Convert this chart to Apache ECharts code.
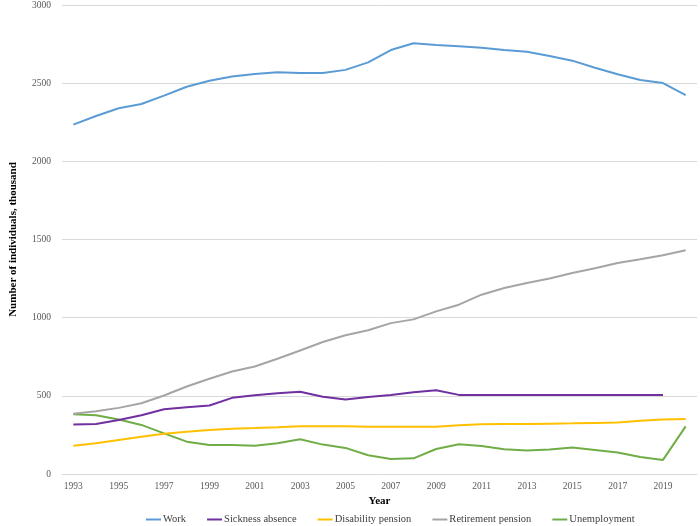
<!DOCTYPE html>
<html>
<head>
<meta charset="utf-8">
<script src="https://cdn.jsdelivr.net/npm/echarts@6/dist/echarts.min.js"></script>
<style>html,body{margin:0;padding:0;background:#fff}#c{width:700px;height:526px}</style>
</head>
<body>
<div id="c"></div>
<script>
var years = ['1993','1994','1995','1996','1997','1998','1999','2000','2001','2002','2003','2004','2005','2006','2007','2008','2009','2010','2011','2012','2013','2014','2015','2016','2017','2018','2019','2020'];
var work = [2235,2290,2340,2367,2420,2477,2515,2542,2559,2570,2565,2565,2585,2633,2712,2755,2744,2736,2727,2712,2701,2674,2644,2599,2557,2520,2501,2424];
var sickness = [316,320,346,376,414,427,438,487,504,517,526,494,476,493,506,523,536,506,506,506,506,506,506,506,506,506,506,null];
var disability = [181,196,218,239,258,271,282,290,294,299,306,306,306,302,303,303,303,312,318,320,320,322,324,327,329,340,348,352];
var retirement = [385,401,423,453,502,560,609,656,688,737,790,844,887,920,965,989,1040,1083,1147,1190,1222,1250,1286,1316,1350,1374,1399,1431];
var unemployment = [382,376,348,314,260,207,186,186,181,196,222,188,167,120,96,100,160,190,179,158,151,156,169,154,137,109,90,305];
var seriesNames = ['Work','Sickness absence','Disability pension','Retirement pension','Unemployment'];
var colors = ['#5B9BD5','#7030A0','#FFC000','#A5A5A5','#70AD47'];
var dataSets = [work, sickness, disability, retirement, unemployment];

var font = '"Liberation Serif", "Times New Roman", serif';
var chart = echarts.init(document.getElementById('c'), null, {renderer:'canvas'});
chart.setOption({
  animation: false,
  color: colors,
  grid: {left: 53, right: 3, top: 5, bottom: 52, containLabel: false},
  legend: {
    top: 509, left: 141,
    itemWidth: 15, itemHeight: 2, itemGap: 21,
    icon: 'rect',
    textStyle: {fontFamily: font, fontSize: 10.5, color: '#404040', padding: [0,0,0,-3]},
    data: seriesNames
  },
  xAxis: {
    type: 'category', data: years, boundaryGap: true,
    name: 'Year', nameLocation: 'middle', nameGap: 17,
    nameTextStyle: {fontFamily: font, fontSize: 11, fontWeight: 'bold', color: '#000'},
    axisLine: {lineStyle: {color: '#D9D9D9'}},
    axisTick: {show: false},
    axisLabel: {interval: 1, fontFamily: font, fontSize: 9.5, color: '#595959', margin: 7}
  },
  yAxis: {
    type: 'value', min: 0, max: 3000, interval: 500,
    name: 'Number of individuals, thousand', nameLocation: 'middle', nameGap: 43,
    nameTextStyle: {fontFamily: font, fontSize: 11, fontWeight: 'bold', color: '#000'},
    axisLine: {show: false}, axisTick: {show: false},
    axisLabel: {fontFamily: font, fontSize: 9.5, color: '#595959', margin: 11, formatter: function(v){return String(v);}},
    splitLine: {lineStyle: {color: '#D9D9D9', width: 1}}
  },
  series: dataSets.map(function(d, i){
    return {name: seriesNames[i], type: 'line', data: d, symbol: 'none', connectNulls: false,
      lineStyle: {width: 2, color: colors[i]}, itemStyle: {color: colors[i]}, z: 10 - i};
  })
});
</script>
</body>
</html>
